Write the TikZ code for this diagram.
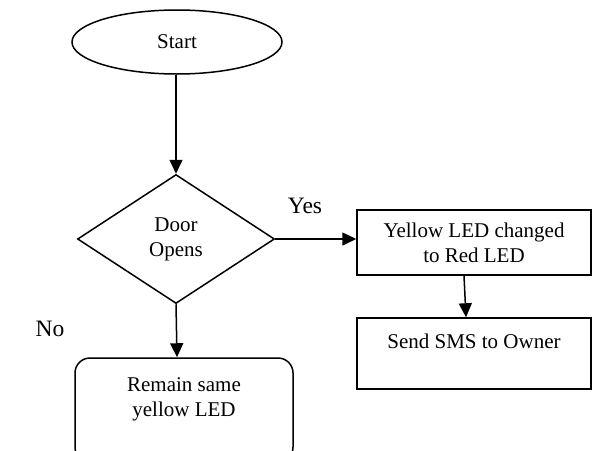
\documentclass[tikz,border=0pt]{standalone}
\usepackage{fontspec}
\setmainfont{Liberation Serif}
\usetikzlibrary{shapes.geometric,arrows.meta}
\begin{document}
\begin{tikzpicture}[x=1pt,y=-1pt,
  every node/.style={font=\fontsize{21}{25}\selectfont, align=center, inner sep=0pt},
  shp/.style={draw, line width=1.5pt},
  conn/.style={line width=1.5pt, -{Triangle[length=14pt,width=13pt]}},
  lbl/.style={font=\fontsize{23.5}{27}\selectfont}]
\useasboundingbox (0,0) rectangle (593,450);
\clip (0,0) rectangle (593,450);
\node[shp, ellipse, minimum width=210pt, minimum height=64pt] (start) at (177,42) {Start};
\node[shp, diamond, minimum width=197pt, minimum height=129pt] (dec) at (176,239) {Door\\Opens};
\node[shp, rectangle, minimum width=234pt, minimum height=65pt] (box1) at (474,242.5) {Yellow LED changed\\to Red LED};
\node[shp, rectangle, minimum width=234pt, minimum height=71pt] (box2) at (474,353.5) {Send SMS to Owner\\\mbox{}};
\node[shp, rectangle, rounded corners=15pt, minimum width=218pt, minimum height=104pt] (box3) at (184,410) {Remain same\\yellow LED\\\mbox{}};
\node[lbl] (yes) at (305,206) {Yes};
\node[lbl] (no) at (50,329) {No};
\draw[conn] ([xshift=-1pt]start.south) -- (dec.north);
\draw[conn] (dec.east) -- (dec.east -| box1.west);
\draw[conn] ([xshift=-10pt]box1.south) -- ([xshift=-8pt]box2.north);
\draw[conn] (dec.south) -- ([xshift=-7pt]box3.north);
\end{tikzpicture}
\end{document}
